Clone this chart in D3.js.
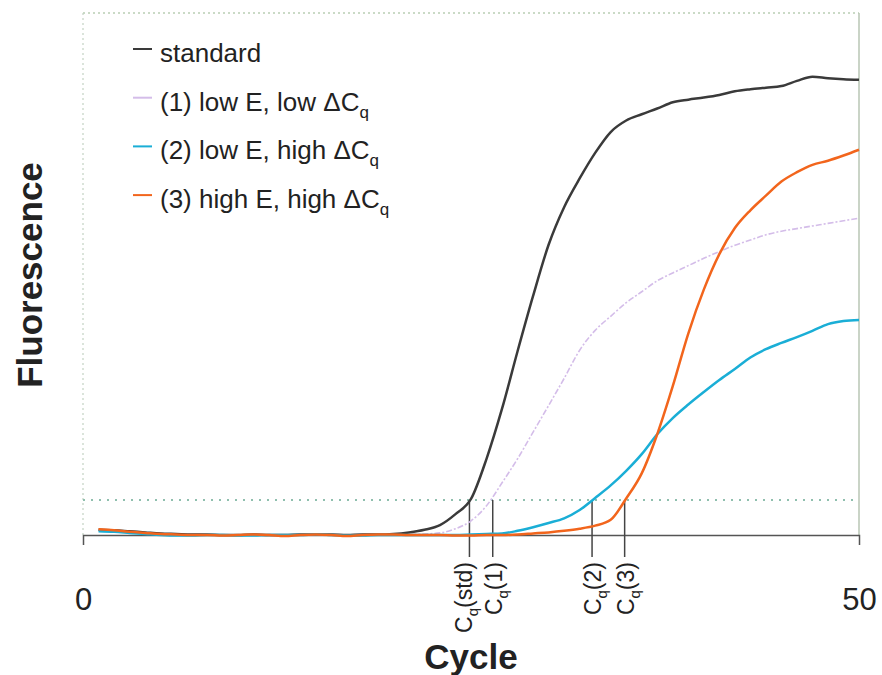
<!DOCTYPE html>
<html>
  <head>
    <title>qPCR amplification curves</title>
    <script src="https://d3js.org/d3.v7.js"></script>
    <style>
      body { margin: 0; background: #fff; }
      text { font-family: 'Liberation Sans', Arial, sans-serif; fill: #222; }
    </style>
  </head>
  <body>
    <svg width="882" height="675"></svg>

    <script>
      (function (d3) {
        'use strict';

        // cycle numbers 1..50
        const cycles = d3.range(1, 51);

        // fluorescence (arbitrary units, 0 = baseline, 100 = top of plot)
        const standard = [
          1.0, 0.9, 0.7, 0.5, 0.3, 0.2, 0.1, 0.1, 0.0, 0.0,
          0.1, 0.0, 0.0, 0.1, 0.1, 0.1, 0.0, 0.1, 0.1, 0.2,
          0.5, 1.0, 1.9, 4.0, 6.9, 14.6, 24.2, 35.2, 45.8, 55.6,
          62.8, 68.3, 73.2, 77.2, 79.4, 80.6, 81.7, 82.9, 83.4, 83.8,
          84.3, 85.0, 85.4, 85.7, 86.0, 87.0, 87.8, 87.5, 87.3, 87.2,
        ];
        const lowELowDcq = [
          0.8, 0.7, 0.5, 0.3, 0.2, 0.1, 0.0, 0.0, 0.0, 0.0,
          0.0, 0.0, -0.1, 0.0, 0.1, 0.0, 0.0, 0.0, 0.0, 0.0,
          0.1, 0.2, 0.4, 1.2, 2.7, 5.6, 10.0, 14.6, 19.7, 24.8,
          30.0, 35.4, 39.2, 41.9, 44.5, 46.6, 48.7, 50.2, 51.6, 53.0,
          54.3, 55.5, 56.5, 57.5, 58.2, 58.7, 59.2, 59.7, 60.2, 60.7,
        ];
        const lowEHighDcq = [
          0.7, 0.6, 0.4, 0.2, 0.0, -0.1, -0.1, 0.0, 0.0, -0.1,
          -0.1, 0.0, 0.0, 0.0, 0.1, 0.0, -0.1, -0.1, 0.0, 0.0,
          0.0, 0.0, 0.0, 0.0, 0.1, 0.2, 0.3, 0.8, 1.5, 2.3,
          3.2, 4.8, 7.1, 9.5, 12.3, 15.5, 19.3, 22.4, 25.0, 27.4,
          29.7, 31.8, 34.0, 35.6, 36.8, 37.9, 39.1, 40.4, 41.0, 41.2,
        ];
        const highEHighDcq = [
          1.1, 0.9, 0.6, 0.4, 0.2, 0.1, 0.0, 0.0, -0.1, 0.0,
          0.1, 0.0, -0.2, 0.0, 0.1, 0.0, -0.2, 0.0, 0.1, 0.1,
          0.0, 0.0, 0.0, -0.1, -0.1, 0.0, 0.0, 0.1, 0.3, 0.5,
          0.8, 1.2, 1.8, 2.9, 7.0, 11.8, 19.3, 28.5, 38.6, 47.0,
          53.8, 58.8, 62.2, 65.0, 67.7, 69.5, 70.9, 71.7, 72.7, 73.8,
        ];

        const seriesNames = [
          'standard',
          '(1) low E, low \u0394C',
          '(2) low E, high \u0394C',
          '(3) high E, high \u0394C',
        ];
        const seriesColors = ['#3a3a3a', '#d4bde9', '#1aaed6', '#f2651c'];

        const threshold = 6.7;
        const cqNames = ['std', '1', '2', '3'];
        const cqValues = [24.9, 26.4, 32.8, 34.9];
        const xTicks = [0, 50];

        const svg = d3.select('svg');
        const left = 83, right = 859, top = 13, bottom = 535;

        const x = d3.scaleLinear().domain([0, 50]).range([left, right]);
        const y = d3.scaleLinear().domain([0, 100]).range([bottom, top]);

        // frame
        svg.append('line')
          .attr('x1', left).attr('x2', right)
          .attr('y1', top).attr('y2', top)
          .attr('stroke', '#b9ceb4')
          .attr('stroke-width', 1.5)
          .attr('stroke-dasharray', '2,3');
        svg.append('line')
          .attr('x1', left).attr('x2', left)
          .attr('y1', top).attr('y2', bottom)
          .attr('stroke', '#c4d3c4')
          .attr('stroke-width', 1.2)
          .attr('stroke-dasharray', '2,3');
        svg.append('line')
          .attr('x1', right).attr('x2', right)
          .attr('y1', top).attr('y2', bottom)
          .attr('stroke', '#b8c6b4')
          .attr('stroke-width', 1.5);

        // threshold
        svg.append('line')
          .attr('x1', left).attr('x2', right)
          .attr('y1', y(threshold)).attr('y2', y(threshold))
          .attr('stroke', '#8fbfae')
          .attr('stroke-width', 2)
          .attr('stroke-dasharray', '2,6');

        // x axis
        const xAxisG = svg.append('g')
          .attr('transform', `translate(0,${bottom})`)
          .call(
            d3.axisBottom(x)
              .tickValues(xTicks)
              .tickFormat(d3.format('d'))
              .tickSize(10)
              .tickPadding(43),
          );
        xAxisG.select('.domain')
          .attr('stroke', '#555')
          .attr('stroke-width', 1.5);
        xAxisG.selectAll('.tick line').remove();
        xAxisG.selectAll('.tick text')
          .attr('fill', '#222')
          .style('font-size', '31px');

        // Cq markers
        cqNames.forEach((name, i) => {
          const cx = x(cqValues[i]);
          svg.append('line')
            .attr('x1', cx).attr('x2', cx)
            .attr('y1', y(threshold)).attr('y2', 557)
            .attr('stroke', '#444')
            .attr('stroke-width', 1.5);
          const t = svg.append('text')
            .attr('transform', `translate(${cx + (i === 0 ? -6 : 0) + 9},562) rotate(-90)`)
            .attr('text-anchor', 'end')
            .style('font-size', '23px');
          t.append('tspan').text('C');
          t.append('tspan').attr('dy', 6).style('font-size', '15px').text('q');
          t.append('tspan').attr('dy', -6).text('(' + name + ')');
        });

        // curves
        const allSeries = [standard, lowELowDcq, lowEHighDcq, highEHighDcq];
        const line = d3.line()
          .x((d, i) => x(cycles[i]))
          .y((d) => y(d))
          .curve(d3.curveMonotoneX);

        // draw lavender first so the solid lines sit on top
        [1, 0, 2, 3].forEach((k) => {
          svg.append('path')
            .datum(allSeries[k])
            .attr('fill', 'none')
            .attr('stroke', seriesColors[k])
            .attr('stroke-width', k === 1 ? 1.6 : 2.5)
            .attr('stroke-dasharray', k === 1 ? '6,2,2,2' : null)
            .attr('d', line);
        });

        // legend
        seriesNames.forEach((name, i) => {
          const ly = 49 + i * 48.7;
          svg.append('line')
            .attr('x1', 133).attr('x2', 152)
            .attr('y1', ly).attr('y2', ly)
            .attr('stroke', seriesColors[i])
            .attr('stroke-width', 2);
          const t = svg.append('text')
            .attr('x', 160)
            .attr('y', ly + 13)
            .style('font-size', '26px');
          t.append('tspan').text(name);
          if (i > 0) {
            t.append('tspan').attr('dy', 7).style('font-size', '17px').text('q');
          }
        });

        // axis titles
        svg.append('text')
          .attr('transform', 'translate(42,275) rotate(-90)')
          .attr('text-anchor', 'middle')
          .style('font-size', '35px')
          .style('font-weight', 'bold')
          .text('Fluorescence');

        svg.append('text')
          .attr('x', 471)
          .attr('y', 669)
          .attr('text-anchor', 'middle')
          .style('font-size', '35px')
          .style('font-weight', 'bold')
          .text('Cycle');
      })(d3);
    </script>
  </body>
</html>
